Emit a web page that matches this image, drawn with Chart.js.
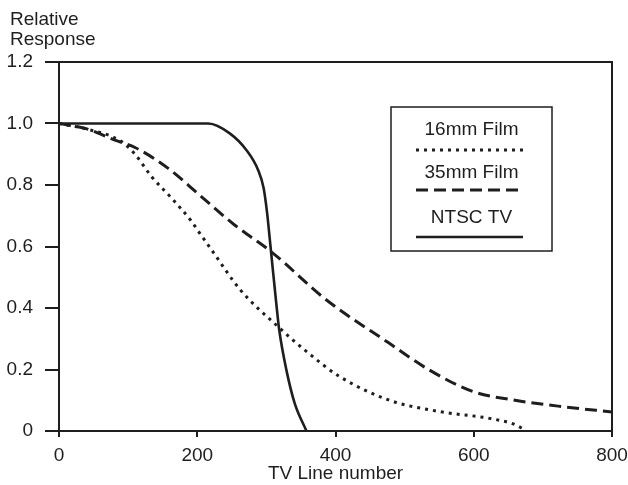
<!DOCTYPE html>
<html><head><meta charset="utf-8">
<script src="https://cdn.jsdelivr.net/npm/chart.js@4.4.0/dist/chart.umd.min.js"></script>
<style>html,body{margin:0;padding:0;background:#fff;}#wrap{width:628px;height:485px;}</style>
</head><body><div id="wrap"><canvas id="c" width="628" height="485"></canvas></div>
<script>
const xTicks = [0, 200, 400, 600, 800];
const xTickLabels = ['0', '200', '400', '600', '800'];
const yTicks = [0, 0.2, 0.4, 0.6, 0.8, 1.0, 1.2];
const yTickLabels = ['0', '0.2', '0.4', '0.6', '0.8', '1.0', '1.2'];
const seriesNames = ['16mm Film', '35mm Film', 'NTSC TV'];
const yTitleLines = ['Relative', 'Response'];
const xTitle = 'TV Line number';

const film16X = [0, 40, 90, 110, 134, 163, 192, 204, 221, 262, 317, 360, 406, 478, 551, 623, 657, 674];
const film16Y = [1.0, 0.982, 0.942, 0.9, 0.827, 0.757, 0.681, 0.642, 0.588, 0.46, 0.339, 0.255, 0.177, 0.10, 0.063, 0.041, 0.023, 0.004];
const film35X = [0, 38, 81, 110, 158, 204, 254, 307, 387, 478, 536, 599, 657, 729, 800];
const film35Y = [1.0, 0.984, 0.946, 0.922, 0.854, 0.766, 0.67, 0.583, 0.426, 0.285, 0.198, 0.128, 0.101, 0.079, 0.062];
const ntscX = [0, 216, 247, 271, 288, 296, 301, 306, 315, 318.5, 329, 341, 358];
const ntscY = [1.0, 1.0, 0.968, 0.914, 0.849, 0.79, 0.71, 0.6, 0.4, 0.33, 0.198, 0.09, 0];

const INK = '#1e1e1e';
const FONT = "'Liberation Sans', Arial, Helvetica, sans-serif";
const pts = (xs, ys) => xs.map((x, i) => ({x: x, y: ys[i]}));

const framePlugin = {
  id: 'frame',
  afterDraw(chart) {
    const {ctx, chartArea: a} = chart;
    ctx.save();
    ctx.strokeStyle = INK; ctx.lineWidth = 2;
    ctx.beginPath();
    ctx.moveTo(a.left, a.top); ctx.lineTo(a.right, a.top); ctx.lineTo(a.right, a.bottom + 2);
    ctx.stroke();
    // y title
    ctx.fillStyle = INK;
    ctx.font = '19px ' + FONT;
    ctx.textAlign = 'left'; ctx.textBaseline = 'alphabetic';
    ctx.fillText(yTitleLines[0], 10, 25);
    ctx.fillText(yTitleLines[1], 10, 45);
    // legend box
    const L = a.left + 332, T = a.top + 45, W = 161, H = 144;
    ctx.lineWidth = 1.5;
    ctx.strokeRect(L, T, W, H);
    const cx = L + W / 2;
    ctx.font = '19px ' + FONT;
    ctx.textAlign = 'center';
    const textY = [28, 71, 116];
    const lineY = [43, 83, 130];
    chart.data.datasets.forEach((ds, i) => {
      ctx.fillText(ds.label, cx, T + textY[i]);
      ctx.save();
      ctx.strokeStyle = ds.borderColor;
      ctx.lineWidth = ds.borderWidth;
      ctx.setLineDash(ds.borderDash || []);
      ctx.lineCap = ds.borderCapStyle || 'butt';
      ctx.beginPath();
      ctx.moveTo(L + 25, T + lineY[i]);
      ctx.lineTo(L + 132, T + lineY[i]);
      ctx.stroke();
      ctx.restore();
    });
    ctx.restore();
  }
};

new Chart(document.getElementById('c'), {
  type: 'line',
  data: {
    datasets: [
      {label: seriesNames[0], data: pts(film16X, film16Y), borderColor: INK, borderWidth: 3, borderDash: [3, 5], borderCapStyle: 'butt', pointRadius: 0, cubicInterpolationMode: 'monotone', fill: false},
      {label: seriesNames[1], data: pts(film35X, film35Y), borderColor: INK, borderWidth: 3, borderDash: [12, 6], pointRadius: 0, cubicInterpolationMode: 'monotone', fill: false},
      {label: seriesNames[2], data: pts(ntscX, ntscY), borderColor: INK, borderWidth: 2.6, pointRadius: 0, cubicInterpolationMode: 'monotone', fill: false}
    ]
  },
  options: {
    responsive: false,
    devicePixelRatio: 1,
    animation: false,
    layout: {padding: {left: 0, top: 62, right: 16, bottom: 0}},
    plugins: {legend: {display: false}, tooltip: {enabled: false}, title: {display: false}},
    scales: {
      x: {
        type: 'linear', min: 0, max: 800,
        afterBuildTicks: s => { s.ticks = xTicks.map(v => ({value: v})); },
        afterFit: s => { s.height = 54; s.paddingRight = 0; },
        ticks: {callback: v => xTickLabels[xTicks.indexOf(v)], font: {size: 19, family: FONT}, color: INK, padding: 7, maxRotation: 0, autoSkip: false},
        grid: {drawOnChartArea: false, drawTicks: true, tickLength: 6, color: INK, lineWidth: 2},
        border: {display: true, color: INK, width: 2},
        title: {display: true, text: xTitle, font: {size: 19, family: FONT}, color: INK, padding: {top: 0, bottom: 0}}
      },
      y: {
        type: 'linear', min: 0, max: 1.2,
        afterBuildTicks: s => { s.ticks = yTicks.map(v => ({value: v})); },
        afterFit: s => { s.width = 59; },
        ticks: {callback: v => yTickLabels[yTicks.findIndex(t => Math.abs(t - v) < 1e-9)], font: {size: 19, family: FONT}, color: INK, padding: 12, autoSkip: false},
        grid: {drawOnChartArea: false, drawTicks: true, tickLength: 14, color: INK, lineWidth: 2},
        border: {display: true, color: INK, width: 2}
      }
    }
  },
  plugins: [framePlugin]
});
</script></body></html>
